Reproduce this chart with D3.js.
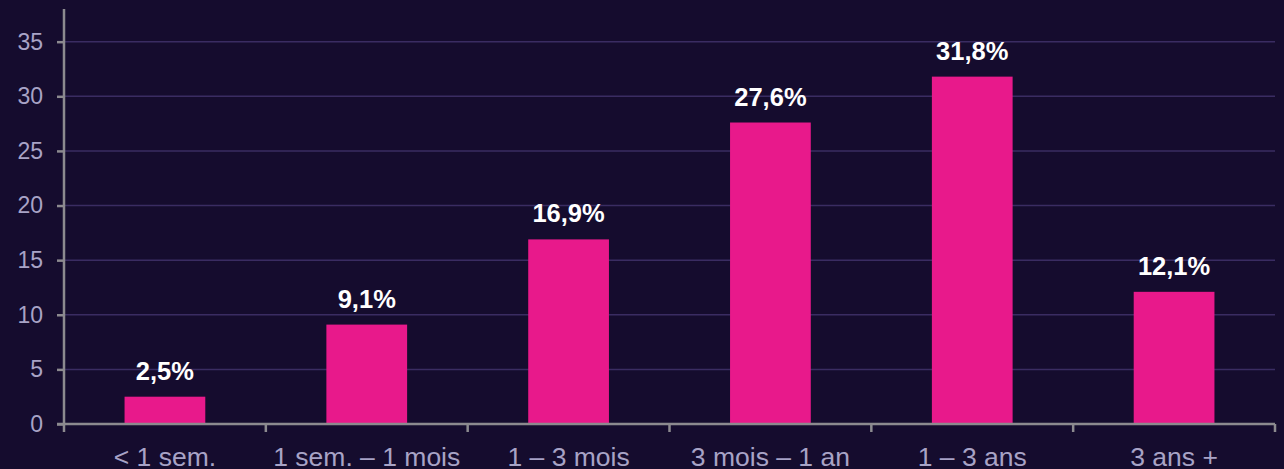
<!DOCTYPE html>
<html>
<head>
<meta charset="utf-8">
<script src="https://cdn.jsdelivr.net/npm/d3@7"></script>
<style>
  html, body { margin: 0; padding: 0; background: #150c2e; }
  svg { display: block; }
</style>
</head>
<body>
<svg id="chart" width="1284" height="469"></svg>
<script>
const categories = ["< 1 sem.", "1 sem. – 1 mois", "1 – 3 mois", "3 mois – 1 an", "1 – 3 ans", "3 ans +"];
const values = [2.5, 9.1, 16.9, 27.6, 31.8, 12.1];
const valueLabels = ["2,5%", "9,1%", "16,9%", "27,6%", "31,8%", "12,1%"];
const yTicks = [0, 5, 10, 15, 20, 25, 30, 35];

const svg = d3.select("#chart");
const W = 1284, H = 469;
const margin = { left: 64, right: 9, top: 10, bottom: 45 };

const x = d3.scaleBand()
  .domain(categories)
  .range([margin.left, W - margin.right])
  .paddingInner(0.6)
  .paddingOuter(0.3);

const y = d3.scaleLinear()
  .domain([0, 37.9])
  .range([H - margin.bottom, margin.top]);

svg.append("rect").attr("width", W).attr("height", H).attr("fill", "#150c2e");

// gridlines
svg.append("g")
  .selectAll("line")
  .data(yTicks.filter(d => d > 0))
  .join("line")
  .attr("x1", margin.left)
  .attr("x2", W - margin.right)
  .attr("y1", d => y(d))
  .attr("y2", d => y(d))
  .attr("stroke", "#3a2c62")
  .attr("stroke-width", 1.5);

// bars
svg.append("g")
  .selectAll("rect")
  .data(categories)
  .join("rect")
  .attr("x", d => x(d))
  .attr("width", x.bandwidth())
  .attr("y", (d, i) => y(values[i]))
  .attr("height", (d, i) => y(0) - y(values[i]))
  .attr("fill", "#e8198b");

// value labels
svg.append("g")
  .selectAll("text")
  .data(categories)
  .join("text")
  .attr("x", d => x(d) + x.bandwidth() / 2)
  .attr("y", (d, i) => y(values[i]) - 17)
  .attr("text-anchor", "middle")
  .attr("font-family", "Liberation Sans, Arial, sans-serif")
  .attr("font-weight", "bold")
  .attr("font-size", 25.5)
  .attr("fill", "#ffffff")
  .text((d, i) => valueLabels[i]);

// y axis
const yAxis = svg.append("g")
  .attr("transform", `translate(${margin.left},0)`)
  .call(d3.axisLeft(y).tickValues(yTicks).tickSize(7).tickPadding(14).tickFormat(d3.format("d")));
yAxis.select(".domain").attr("stroke", "#8c8a8f").attr("stroke-width", 2.5)
  .attr("d", `M0,${margin.top - 1}V${y(0)}`);
yAxis.selectAll(".tick line").attr("stroke", "#8c8a8f").attr("stroke-width", 2.5);
yAxis.selectAll(".tick text")
  .attr("fill", "#a8a3c6")
  .attr("font-family", "Liberation Sans, Arial, sans-serif")
  .attr("font-size", 23);

// x axis with ticks at band boundaries
const n = categories.length;
const boundaries = d3.range(n + 1).map(i => margin.left + i * (W - margin.right - margin.left) / n);
const xg = svg.append("g");
xg.append("line")
  .attr("x1", margin.left - 7).attr("x2", W - margin.right)
  .attr("y1", y(0)).attr("y2", y(0))
  .attr("stroke", "#8c8a8f").attr("stroke-width", 2.5);
xg.selectAll(".xt")
  .data(boundaries)
  .join("line")
  .attr("class", "xt")
  .attr("x1", d => d).attr("x2", d => d)
  .attr("y1", y(0)).attr("y2", y(0) + 8)
  .attr("stroke", "#8c8a8f").attr("stroke-width", 2.5);
xg.selectAll("text")
  .data(categories)
  .join("text")
  .attr("x", d => x(d) + x.bandwidth() / 2)
  .attr("y", y(0) + 42)
  .attr("text-anchor", "middle")
  .attr("font-family", "Liberation Sans, Arial, sans-serif")
  .attr("font-size", 26.5)
  .attr("fill", "#a8a3c6")
  .text(d => d);
</script>
</body>
</html>
